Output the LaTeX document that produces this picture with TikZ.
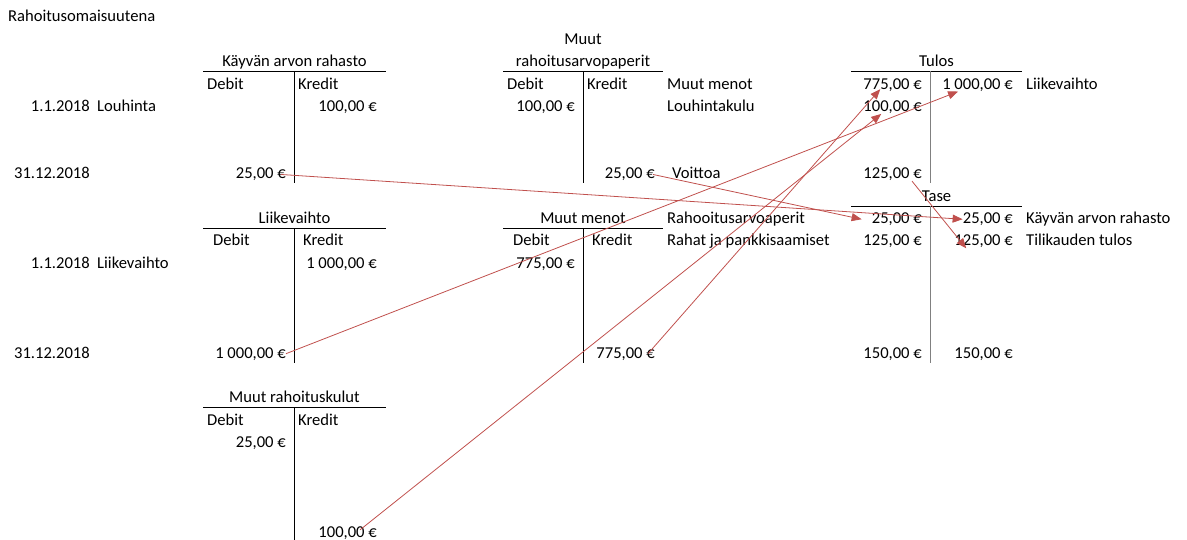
\documentclass[tikz,border=0pt]{standalone}
\usepackage{fontspec}
\setmainfont{Carlito}
\usetikzlibrary{arrows.meta}
\definecolor{siirtored}{RGB}{192,80,77}
\tikzset{
  lbl/.style={anchor=base west,inner sep=0pt},
  amt/.style={anchor=base east,inner sep=0pt},
  ttl/.style={anchor=base,inner sep=0pt},
  tili/.style={line width=0.9pt},
  siirto/.style={draw=siirtored,line width=0.8pt,-{Triangle[length=10pt,width=8pt]}}
}
\begin{document}
\begin{tikzpicture}[x=1pt,y=-1pt,font=\fontsize{16.6}{19}\selectfont]
      \useasboundingbox (0,0) rectangle (1187,540);
      % rivien otsikot
      \draw
        (8,22) node[lbl] (otsikko){Rahoitusomaisuutena}
        (90,111.6) node[amt] (pv1){1.1.2018}
        (97,111.6) node[lbl] (louhinta){Louhinta}
        (90,178.8) node[amt] (pv2){31.12.2018}
        (90,268.4) node[amt] (pv3){1.1.2018}
        (97,268.4) node[lbl] (liikevaihto){Liikevaihto}
        (90,358) node[amt] (pv4){31.12.2018};
      % Käyvän arvon rahasto
      \draw
        (294.5,66.8) node[ttl] (ka){Käyvän arvon rahasto}
        (207,89.2) node[lbl] (kadeb){Debit}
        (298,89.2) node[lbl] (kakre){Kredit}
        (377,111.6) node[amt] (kak100){100,00 €}
        (286,178.8) node[amt] (kad25){25,00 €};
      \draw[tili] (203,71.5) -- (386,71.5) (294,71.5) -- (294,183.5);
      % Muut rahoitusarvopaperit
      \draw
        (583,44.4) node[ttl] (mr1){Muut}
        (583,66.8) node[ttl] (mr2){rahoitusarvopaperit}
        (507,89.2) node[lbl] (mrdeb){Debit}
        (587,89.2) node[lbl] (mrkre){Kredit}
        (575,111.6) node[amt] (mrd100){100,00 €}
        (655,178.8) node[amt] (mrk25){25,00 €}
        (667,89.2) node[lbl] (muutmenot){Muut menot}
        (667,111.6) node[lbl] (louhintakulu){Louhintakulu}
        (672,178.8) node[lbl] (voittoa){Voittoa};
      \draw[tili] (503,71.5) -- (663,71.5) (583,71.5) -- (583,183.5);
      % Tulos
      \draw
        (936.5,66.8) node[ttl] (tu){Tulos}
        (922,89.2) node[amt] (tud775){775,00 €}
        (1013,89.2) node[amt] (tuk1000){1 000,00 €}
        (1026,89.2) node[lbl] (tulv){Liikevaihto}
        (922,111.6) node[amt] (tud100){100,00 €}
        (922,178.8) node[amt] (tud125){125,00 €};
      \draw[tili] (851,71.5) -- (1022,71.5);
      \draw[tili,gray] (930,71.5) -- (930,183.5);
      % Tase
      \draw
        (936.5,201.2) node[ttl] (ta){Tase}
        (922,223.6) node[amt] (tad25){25,00 €}
        (1013,223.6) node[amt] (tak25){25,00 €}
        (1026,223.6) node[lbl] (takar){Käyvän arvon rahasto}
        (922,246) node[amt] (tad125){125,00 €}
        (1013,246) node[amt] (tak125){125,00 €}
        (1026,246) node[lbl] (tatt){Tilikauden tulos}
        (922,358) node[amt] (tad150){150,00 €}
        (1013,358) node[amt] (tak150){150,00 €};
      \draw[tili] (851,206) -- (1022,206);
      \draw[tili,gray] (930,206) -- (930,362.5);
      % Liikevaihto
      \draw
        (294.5,223.6) node[ttl] (lv){Liikevaihto}
        (213,246) node[lbl] (lvdeb){Debit}
        (303,246) node[lbl] (lvkre){Kredit}
        (377,268.4) node[amt] (lvk1000){1 000,00 €}
        (286,358) node[amt] (lvd1000){1 000,00 €};
      \draw[tili] (203,228.5) -- (386,228.5) (294,228.5) -- (294,362.5);
      % Muut menot
      \draw
        (583,223.6) node[ttl] (mm){Muut menot}
        (513,246) node[lbl] (mmdeb){Debit}
        (592,246) node[lbl] (mmkre){Kredit}
        (575,268.4) node[amt] (mmd775){775,00 €}
        (655,358) node[amt] (mmk775){775,00 €}
        (667,223.6) node[lbl] (rahoap){Rahooitusarvoaperit}
        (667,246) node[lbl] (rahat){Rahat ja pankkisaamiset};
      \draw[tili] (503,228.5) -- (663,228.5) (583,228.5) -- (583,362.5);
      % Muut rahoituskulut
      \draw
        (294.5,402.8) node[ttl] (rk){Muut rahoituskulut}
        (207,425.2) node[lbl] (rkdeb){Debit}
        (298,425.2) node[lbl] (rkkre){Kredit}
        (286,447.6) node[amt] (rkd25){25,00 €}
        (377,537.2) node[amt] (rkk100){100,00 €};
      \draw[tili] (203,407.5) -- (386,407.5) (294,407.5) -- (294,540);
      \begin{scope}[siirto]
        \draw ([xshift=-5pt]kad25.east) to (tak25.west);
        \draw ([xshift=-2pt]mrk25.east) to ([xshift=-10pt]tad25.west);
        \draw (lvd1000.east) to ([xshift=16pt]tuk1000.south west);
        \draw ([xshift=-7pt]mmk775.east) to ([xshift=17pt]tud775.base west);
        \draw ([xshift=-17pt,yshift=3pt]rkk100.east) to ([xshift=18pt]tud100.south west);
        \draw ([xshift=-10pt]tud125.south east) to ([xshift=12pt]tak125.south west);
      \end{scope}
    \end{tikzpicture}
\end{document}
